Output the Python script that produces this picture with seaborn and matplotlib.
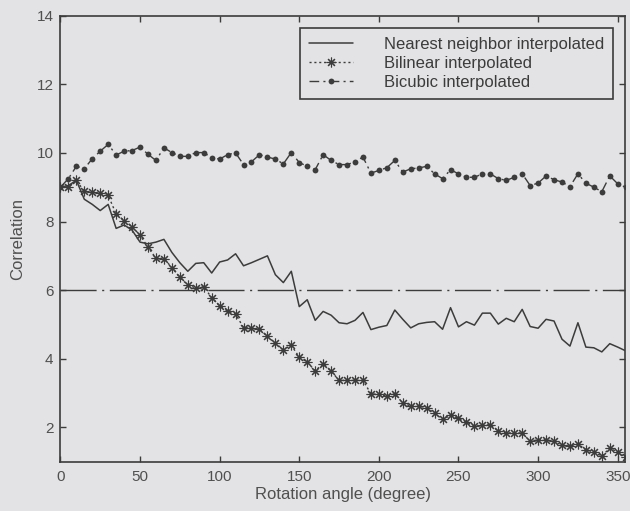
import numpy as np
import pandas as pd
import matplotlib
matplotlib.use("Agg")
import matplotlib.pyplot as plt
import seaborn as sns

# Rotation angles in degrees (5 degree steps)
angles = list(range(0, 360, 5))

nearest = [
    9.0, 9.05, 9.2, 8.65, 8.5, 8.32, 8.5, 7.8, 7.9, 7.75,
    7.4, 7.35, 7.4, 7.48, 7.1, 6.8, 6.55, 6.78, 6.8, 6.5,
    6.82, 6.88, 7.06, 6.71, 6.8, 6.9, 7.0, 6.45, 6.22, 6.55,
    5.52, 5.72, 5.12, 5.38, 5.27, 5.05, 5.02, 5.12, 5.35, 4.85,
    4.92, 4.97, 5.42, 5.15, 4.9, 5.02, 5.06, 5.08, 4.86, 5.49,
    4.93, 5.08, 4.98, 5.33, 5.33, 5.01, 5.18, 5.08, 5.44, 4.94,
    4.89, 5.15, 5.1, 4.57, 4.37, 5.05, 4.34, 4.32, 4.2, 4.44,
    4.34, 4.23,
]

bilinear = [
    9.0, 9.0, 9.2, 8.88, 8.85, 8.82, 8.76, 8.22, 8.03, 7.85,
    7.6, 7.25, 6.93, 6.92, 6.66, 6.37, 6.15, 6.06, 6.1, 5.78,
    5.54, 5.39, 5.3, 4.91, 4.89, 4.86, 4.65, 4.45, 4.27, 4.39,
    4.05, 3.9, 3.65, 3.86, 3.64, 3.37, 3.37, 3.37, 3.37, 2.98,
    2.96, 2.91, 2.98, 2.71, 2.62, 2.62, 2.57, 2.42, 2.23, 2.35,
    2.26, 2.16, 2.03, 2.06, 2.08, 1.89, 1.84, 1.84, 1.84, 1.59,
    1.64, 1.64, 1.59, 1.48, 1.45, 1.51, 1.35, 1.28, 1.16, 1.40,
    1.28, 1.13,
]

bicubic = [
    9.0, 9.25, 9.61, 9.54, 9.83, 10.05, 10.25, 9.94, 10.05, 10.07,
    10.17, 9.96, 9.78, 10.15, 10.01, 9.90, 9.90, 10.01, 10.01, 9.86,
    9.82, 9.95, 10.0, 9.66, 9.74, 9.95, 9.88, 9.82, 9.68, 10.01,
    9.72, 9.61, 9.51, 9.95, 9.78, 9.66, 9.66, 9.74, 9.88, 9.41,
    9.49, 9.57, 9.78, 9.44, 9.54, 9.56, 9.61, 9.39, 9.25, 9.51,
    9.39, 9.29, 9.29, 9.39, 9.39, 9.25, 9.20, 9.29, 9.39, 9.05,
    9.12, 9.33, 9.22, 9.15, 9.02, 9.39, 9.12, 9.0, 8.87, 9.33,
    9.10, 9.0,
]

threshold = 6.0

labels = ["Nearest neighbor interpolated", "Bilinear interpolated", "Bicubic interpolated"]
x_ticks = [0, 50, 100, 150, 200, 250, 300, 350]
y_ticks = [2, 4, 6, 8, 10, 12, 14]

df = pd.DataFrame({
    "angle": angles * 3,
    "corr": nearest + bilinear + bicubic,
    "method": [labels[0]] * len(angles) + [labels[1]] * len(angles) + [labels[2]] * len(angles),
})

bg = "#e3e3e5"
ink = "#3c3c3c"
txt = "#505050"

sns.set_theme(style="ticks")
plt.rcParams["font.family"] = ["Liberation Sans", "DejaVu Sans"]

fig = plt.figure(figsize=(6.3, 5.11), dpi=100, facecolor=bg)
ax = fig.add_axes([0.0959, 0.0965, 0.896, 0.8728], facecolor=bg)

styles = {
    labels[0]: dict(linestyle="-", marker=None, lw=1.1),
    labels[1]: dict(linestyle=(0, (1.5, 2)), marker=(8, 2, 0), ms=7, mew=0.8, lw=1.0),
    labels[2]: dict(linestyle=(0, (7, 3, 1.5, 3)), marker="o", ms=4.2, mew=0, lw=1.0),
}

for name in labels:
    st = styles[name]
    sub = df[df["method"] == name]
    kw = dict(color=ink, linewidth=st["lw"], linestyle=st["linestyle"], label=name)
    if st["marker"] is not None:
        kw.update(marker=st["marker"], markersize=st["ms"],
                  markeredgewidth=st["mew"], markeredgecolor=ink, markerfacecolor=ink)
    sns.lineplot(data=sub, x="angle", y="corr", ax=ax, estimator=None,
                 sort=False, errorbar=None, **kw)

ax.axhline(threshold, color=ink, linewidth=1.0, linestyle=(0, (26, 4, 1.5, 4)))

ax.set_xlim(0, 354.5)
ax.set_ylim(1, 14)
ax.set_xticks(x_ticks)
ax.set_yticks(y_ticks)
ax.tick_params(direction="in", length=4, width=1, colors=ink, labelcolor=txt,
               labelsize=11, top=True, right=True)
ax.tick_params(axis="x", pad=6)
ax.tick_params(axis="y", pad=5)
for side in ["left", "right", "top", "bottom"]:
    ax.spines[side].set_visible(True)
    ax.spines[side].set_color(ink)
    ax.spines[side].set_linewidth(1.2)

ax.set_xlabel("Rotation angle (degree)", fontsize=12, color=txt, labelpad=2)
ax.set_ylabel("Correlation", fontsize=12, color=txt, labelpad=8)

leg = ax.legend(loc="upper right", bbox_to_anchor=(0.979, 0.973), fontsize=12,
                frameon=True, fancybox=False, framealpha=1, facecolor=bg,
                edgecolor=ink, handlelength=2.6, handletextpad=1.85,
                labelspacing=0.25, borderpad=0.55, borderaxespad=0)
leg.get_frame().set_linewidth(1.2)
for t in leg.get_texts():
    t.set_color(ink)

fig.savefig("out.png", dpi=100, facecolor=bg)
